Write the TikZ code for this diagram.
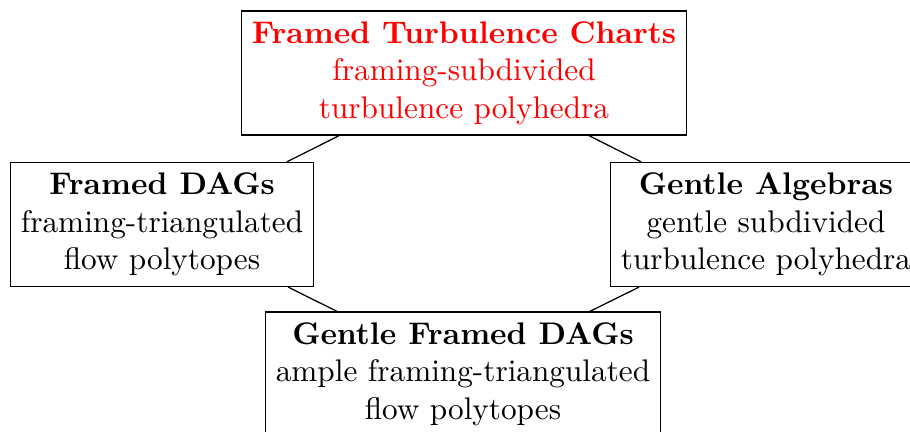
\documentclass[tikz,border=0pt]{standalone}
\begin{document}
\begin{tikzpicture}[x=1pt,y=1pt,
  box/.style={draw, align=center},
  link/.style={draw, line width=0.4pt}]
\useasboundingbox (0,0) rectangle (291.2,-138.24);
\begin{scope}
\clip (0,0) rectangle (291.2,-138.24);
\node[box, text=red] (ftc) at (148.48,-23.36) {\textbf{Framed Turbulence Charts}\\framing-subdivided\\turbulence polyhedra};
\node[box] (fd) at (51.84,-71.84) {\textbf{Framed DAGs}\\framing-triangulated\\flow polytopes};
\node[box] (ga) at (245.12,-71.84) {\textbf{Gentle Algebras}\\gentle subdivided\\turbulence polyhedra};
\node[box] (gfd) at (148.16,-119.68) {\textbf{Gentle Framed DAGs}\\ample framing-triangulated\\flow polytopes};
\draw[link] (ftc) -- (fd);
\draw[link] (ftc) -- (ga);
\draw[link] (fd) -- (gfd);
\draw[link] (ga) -- (gfd);
\end{scope}
\end{tikzpicture}
\end{document}
